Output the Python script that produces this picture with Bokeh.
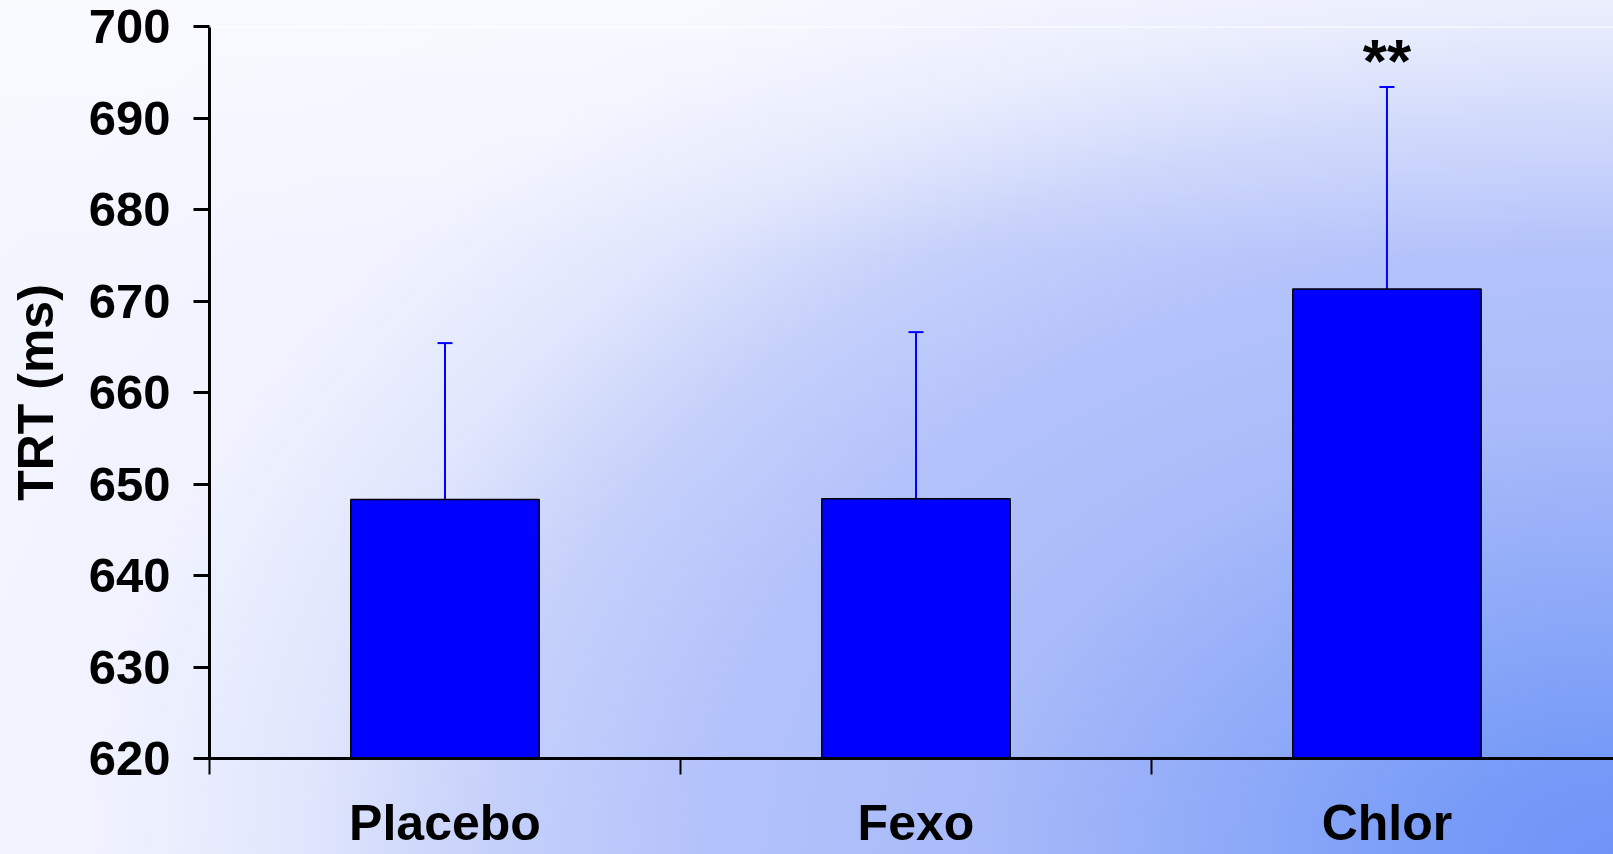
from bokeh.plotting import figure
from bokeh.models import (FixedTicker, Span, Whisker, TeeHead, ColumnDataSource,
                          GlobalInlineStyleSheet)
from bokeh.core.properties import value
from bokeh.embed import file_html
from bokeh.resources import INLINE

# ---- data ----
categories = ["Placebo", "Fexo", "Chlor"]
means = [648.3, 648.4, 671.3]
errors = [17.1, 18.2, 22.1]
signif = ["", "", "**"]
y_ticks = [620, 630, 640, 650, 660, 670, 680, 690, 700]
y_label = "TRT (ms)"

# ---- derived ----
xc = [i + 0.5 for i in range(len(categories))]
bounds = [float(i) for i in range(len(categories))]
upper = [m + e for m, e in zip(means, errors)]
src = ColumnDataSource(dict(x=xc, top=means, upper=upper, sig=signif))

FONT = value("Liberation Sans")

p = figure(width=1613, height=854, x_range=(0, 2.981), y_range=(620, 700),
           output_backend="svg", toolbar_location=None,
           min_border_left=209, min_border_top=26, min_border_right=0,
           min_border_bottom=96)

page_css = GlobalInlineStyleSheet(css=(
    "html, body { margin: 0 !important; padding: 0 !important; "
    "overflow: hidden !important; background: #f3f5fe; }"
))
p.stylesheets = [page_css]

p.background_fill_color = None
p.border_fill_color = None
p.outline_line_color = None
p.xgrid.visible = False
p.ygrid.visible = False
p.styles = {
    "background-image": (
        "linear-gradient(to bottom, rgba(255,255,255,0.45) 0%, "
        "rgba(255,255,255,0) 30%), "
        "radial-gradient(ellipse 1300px 870px at 1613px 854px, "
        "#6f94f6 0%, #7499f7 10%, #a9bbf9 50%, #b3c2fa 70%, #c5d0fa 86%, "
        "#dfe5fc 100%, #f0f3fe 117%, #f4f6fe 150%)"
    ),
}

p.vbar(x="x", top="top", bottom=620, width=0.4, source=src,
       fill_color="#0000ff", line_color="black", line_width=1.5)

wh = Whisker(base="x", upper="upper", lower="top", source=src,
             line_color="#0000ff", line_width=2,
             upper_head=TeeHead(size=15, line_color="#0000ff", line_width=2),
             lower_head=None)
p.add_layout(wh)

p.text(x="x", y="upper", text="sig", source=src, text_align="center",
       text_baseline="alphabetic", text_font=FONT, text_font_style="bold",
       text_font_size="62px", text_color="black", y_offset=-26)

p.add_layout(Span(location=700, dimension="width", line_color="white",
                  line_width=2))

# x axis
p.xaxis.ticker = FixedTicker(ticks=xc, minor_ticks=bounds)
p.xaxis.major_label_overrides = {x: c for x, c in zip(xc, categories)}
p.xaxis.major_tick_out = 0
p.xaxis.major_tick_in = 0
p.xaxis.minor_tick_out = 16
p.xaxis.minor_tick_in = 0
p.xaxis.minor_tick_line_width = 2
p.xaxis.minor_tick_line_color = "black"
p.xaxis.axis_line_width = 3
p.xaxis.axis_line_color = "black"
p.xaxis.major_label_standoff = 20
p.xaxis.major_label_text_font = "Liberation Sans"
p.xaxis.major_label_text_font_style = "bold"
p.xaxis.major_label_text_font_size = "50px"
p.xaxis.major_label_text_color = "black"

# y axis
p.yaxis.ticker = FixedTicker(ticks=y_ticks)
p.yaxis.major_tick_out = 16
p.yaxis.major_tick_in = 0
p.yaxis.minor_tick_out = 0
p.yaxis.minor_tick_in = 0
p.yaxis.major_tick_line_width = 3
p.yaxis.major_tick_line_color = "black"
p.yaxis.axis_line_width = 3
p.yaxis.axis_line_color = "black"
p.yaxis.major_label_standoff = 23
p.yaxis.major_label_text_font = "Liberation Sans"
p.yaxis.major_label_text_font_style = "bold"
p.yaxis.major_label_text_font_size = "49px"
p.yaxis.major_label_text_color = "black"
p.yaxis.axis_label = y_label
p.yaxis.axis_label_standoff = 22
p.yaxis.axis_label_text_font = "Liberation Sans"
p.yaxis.axis_label_text_font_style = "bold"
p.yaxis.axis_label_text_font_size = "50px"
p.yaxis.axis_label_text_color = "black"

open("out.html", "w").write(file_html(p, INLINE))
